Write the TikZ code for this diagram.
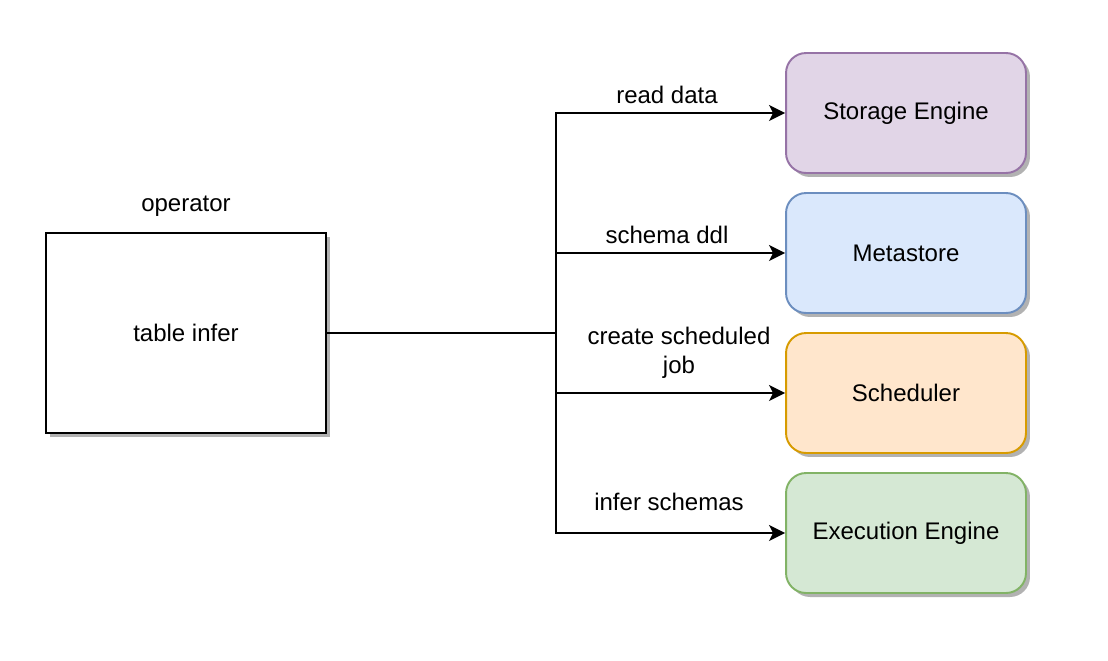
\documentclass[tikz,border=0pt]{standalone}
\usepackage{fontspec}
\setmainfont{Liberation Sans}
\usetikzlibrary{arrows.meta,shadows}
\definecolor{purplefill}{HTML}{E1D5E7}
\definecolor{purpleline}{HTML}{9673A6}
\definecolor{bluefill}{HTML}{DAE8FC}
\definecolor{blueline}{HTML}{6C8EBF}
\definecolor{orangefill}{HTML}{FFE6CC}
\definecolor{orangeline}{HTML}{D79B00}
\definecolor{greenfill}{HTML}{D5E8D4}
\definecolor{greenline}{HTML}{82B366}

\begin{document}
\begin{tikzpicture}[x=0.02cm, y=-0.02cm, font=\fontsize{13.66}{16.4}\selectfont, line width=1.1pt]
			\useasboundingbox (0,0) rectangle (1108,660);
			\tikzstyle{every node}=[align=center, inner sep=1pt]
			\tikzstyle{shadowed}=[drop shadow={shadow xshift=0.08cm, shadow yshift=-0.08cm, fill=black!30, opacity=1}]
			\tikzstyle{engine}=[draw, rectangle, rounded corners=0.4cm, minimum width=4.8cm, minimum height=2.4cm, shadowed]
			\tikzstyle{call}=[->, >={Stealth[length=0.32cm, width=0.32cm, inset=0.08cm]}]

			\node[draw, rectangle, fill=white, minimum width=5.6cm, minimum height=4cm, shadowed] (infer) at (186, 333) {table infer};
			\node (op) at (186, 206) {operator};

			\node[engine, fill=purplefill, draw=purpleline] (storage) at (906, 113) {Storage Engine};
			\node[engine, fill=bluefill, draw=blueline] (meta) at (906, 253) {Metastore};
			\node[engine, fill=orangefill, draw=orangeline] (sched) at (906, 393) {Scheduler};
			\node[engine, fill=greenfill, draw=greenline] (exec) at (906, 533) {Execution Engine};

			\coordinate (split) at (556, 333);
			\draw (infer.east) -- (split);
			\draw[call] (split) |- (storage.west);
			\draw[call] (split) |- (meta.west);
			\draw[call] (split) |- (sched.west);
			\draw[call] (split) |- (exec.west);

			\node (readlbl) at (667, 95) {read data};
			\node (ddllbl) at (667, 235) {schema ddl};
			\node (joblbl) at (679, 353) {create scheduled\\job};
			\node (inferlbl) at (669, 502) {infer schemas};
		\end{tikzpicture}
\end{document}
